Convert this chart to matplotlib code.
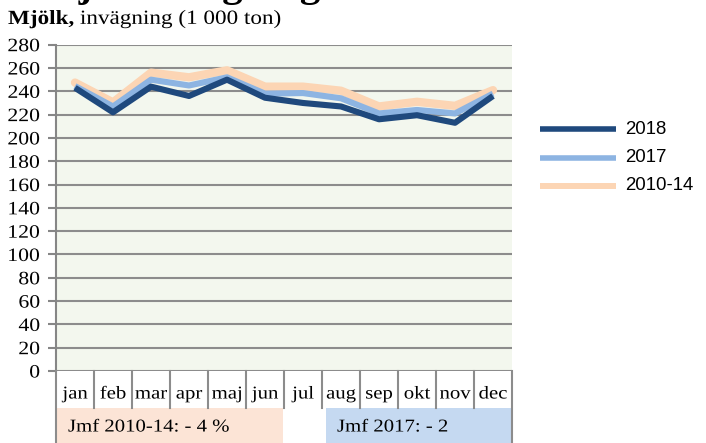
import matplotlib
matplotlib.use("Agg")
import matplotlib.pyplot as plt
from matplotlib.lines import Line2D
from matplotlib.patches import Rectangle
from matplotlib.patheffects import AbstractPathEffect
from matplotlib.transforms import Affine2D
import matplotlib.transforms as mtransforms

months = ["jan", "feb", "mar", "apr", "maj", "jun", "jul", "aug", "sep", "okt", "nov", "dec"]
s2018 = [243, 222, 244, 236, 250, 234.5, 230, 227, 216, 219.5, 213, 236]
s2017 = [244.5, 227, 250, 245, 252, 238, 238.5, 234, 221, 224, 221, 238]
s2010_14 = [247.5, 230.5, 256, 252, 258, 244, 244, 240.5, 227, 231, 227.5, 241]
series_names = ["2018", "2017", "2010-14"]
yticks = list(range(0, 281, 20))
note_left = "Jmf 2010-14: - 4 %"
note_right = "Jmf 2017: - 2"
subtitle_bold = "Mjölk,"
subtitle_rest = " invägning (1 000 ton)"
title_text = "Mjölkinvägning"

SX = 1.15  # horizontal stretch of the serif texts in the reference


class HStretch(AbstractPathEffect):
    """Draw text stretched horizontally, keeping its alignment anchor."""

    def __init__(self, sx, align=0.0):
        super().__init__()
        self.sx = sx
        self.align = align

    def draw_path(self, renderer, gc, tpath, affine, rgbFace=None):
        m = affine.get_matrix().copy()
        ext = tpath.get_extents()
        w = ext.x1 * m[0, 0]
        m[0, 0] *= self.sx
        m[0, 1] *= self.sx
        m[0, 2] -= self.align * (self.sx - 1) * w
        renderer.draw_path(gc, tpath, Affine2D(m), rgbFace)


W, H = 706, 443
fig = plt.figure(figsize=(W / 100, H / 100), dpi=100)
serif = "Liberation Serif"


def fx(px):
    return px / W


def fy(py):
    return 1 - py / H


left, right, top, bottom = 56, 512, 44.7, 371
ax = fig.add_axes([fx(left), fy(bottom), fx(right - left), (bottom - top) / H])
ax.set_facecolor("#F3F7EE")

x = list(range(len(months)))
c_peach, c_blue, c_dark = "#FCD5B4", "#8DB4E2", "#1F497D"
ax.plot(x, s2010_14, color=c_peach, lw=6.0, solid_capstyle="round", solid_joinstyle="round", zorder=3)
ax.plot(x, s2017, color=c_blue, lw=4.4, solid_capstyle="butt", solid_joinstyle="round", zorder=4)
ax.plot(x, s2018, color=c_dark, lw=4.4, solid_capstyle="butt", solid_joinstyle="round", zorder=5)

ax.set_xlim(-0.5, len(months) - 0.5)
ax.set_ylim(0, 280)
ax.set_yticks(yticks)
ax.set_yticklabels([str(t) for t in yticks], fontfamily=serif, fontsize=13.6)
ax.tick_params(axis="y", length=6, width=1.5, color="#868686", pad=5.5)
for lab in ax.get_yticklabels():
    lab.set_path_effects([HStretch(SX, align=1.0)])
ax.set_xticks([])
for sp in ["top", "right", "bottom"]:
    ax.spines[sp].set_visible(False)
ax.spines["left"].set_color("#868686")
ax.spines["left"].set_linewidth(1.5)
ax.grid(axis="y", color="#8C8C8C", lw=1.5, zorder=1)
ax.set_axisbelow(True)

# month "table" below the axis
hpx = bottom - top
blend = mtransforms.blended_transform_factory(ax.transData, ax.transAxes)
sep_len = (408 - bottom) / hpx
full_len = (H - bottom) / hpx
for i in range(1, len(months)):
    ax.add_line(Line2D([i - 0.5, i - 0.5], [0, -sep_len], transform=blend, color="#8C8C8C", lw=1.5, clip_on=False))
for xx in [-0.5, len(months) - 0.5]:
    ax.add_line(Line2D([xx, xx], [0, -full_len], transform=blend, color="#8C8C8C", lw=1.5, clip_on=False, zorder=6))
for i, m in enumerate(months):
    ax.text(i, -(394 - bottom) / hpx, m, transform=blend, ha="center", va="center",
            fontfamily=serif, fontsize=13.0, path_effects=[HStretch(SX, align=0.5)])

# note boxes
fig.add_artist(Rectangle((fx(57), fy(H)), fx(283 - 57), (H - 408) / H, transform=fig.transFigure,
                         facecolor="#FCE4D6", edgecolor="none", zorder=0))
fig.add_artist(Rectangle((fx(326), fy(H)), fx(512 - 326), (H - 408) / H, transform=fig.transFigure,
                         facecolor="#C5D9F1", edgecolor="none", zorder=0))
fig.text(fx(68), fy(427), note_left, fontfamily=serif, fontsize=13.0, va="center", ha="left",
         path_effects=[HStretch(SX)])
fig.text(fx(337), fy(427), note_right, fontfamily=serif, fontsize=13.0, va="center", ha="left",
         path_effects=[HStretch(SX)])

# subtitle
x0 = 8
t1 = fig.text(fx(x0), fy(19), subtitle_bold, fontfamily=serif, fontsize=14.5, fontweight="bold",
              va="center", ha="left", path_effects=[HStretch(SX)])
fig.canvas.draw()
bb = t1.get_window_extent()
x1 = x0 + SX * (bb.x1 - bb.x0)
fig.text(fx(x1), fy(19), subtitle_rest, fontfamily=serif, fontsize=14.5, va="center", ha="left",
         path_effects=[HStretch(SX)])

# clipped heading (only descenders visible, as in the reference)
fig.text(fx(40), fy(-4), title_text, fontfamily=serif, fontsize=29.5, fontweight="bold",
         va="baseline", ha="left")

# legend (drawn by hand to match the reference spacing)
leg_rows = [(129, c_dark, 4.0), (158, c_blue, 4.0), (186, c_peach, 4.3)]
for (yy, col, lw), name in zip(leg_rows, series_names):
    fig.add_artist(Line2D([fx(540), fx(616)], [fy(yy), fy(yy)], transform=fig.transFigure,
                          color=col, lw=lw, solid_capstyle="butt"))
    fig.text(fx(625), fy(yy), name, fontfamily="Liberation Sans", fontsize=13.4, va="center", ha="left")

fig.savefig("out.png", dpi=100)
